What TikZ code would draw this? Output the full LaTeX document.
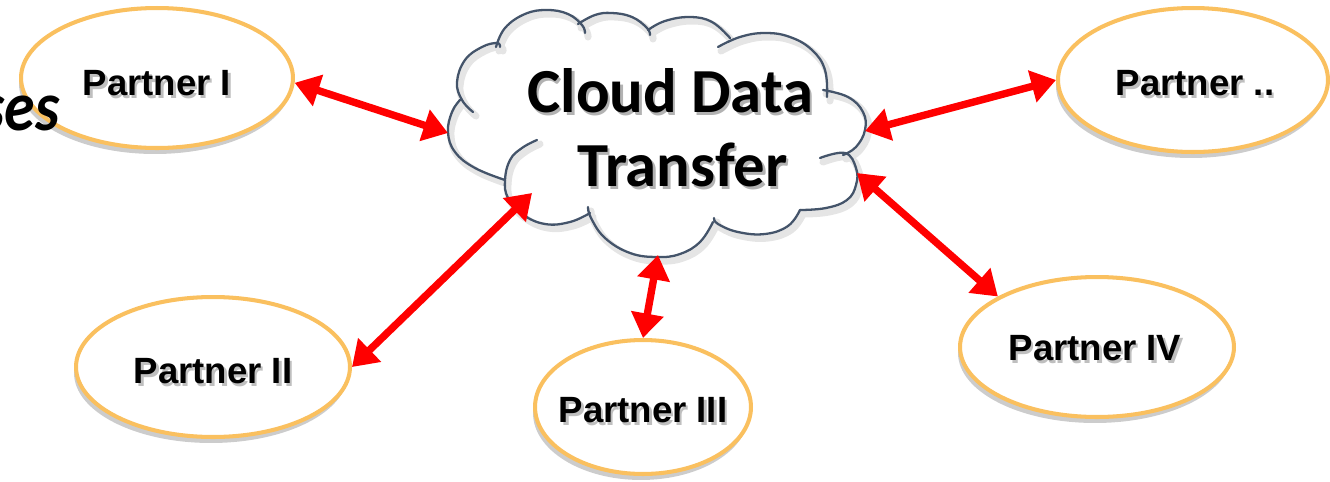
\documentclass[tikz,border=0pt]{standalone}
\usepackage{fontspec}
\setmainfont{Liberation Sans}
\newfontfamily\calib{Carlito}
\usetikzlibrary{arrows.meta,shapes.geometric}
\definecolor{partnerorange}{RGB}{250,192,95}
\definecolor{cloudslate}{RGB}{68,84,106}
\definecolor{arrowred}{RGB}{255,0,0}
\newcommand\shadowed[2][black!25]{\leavevmode\rlap{\kern1.3pt\raisebox{-1.8pt}{\textcolor{#1}{#2}}}#2}
\tikzset{
  partner/.style={ellipse, draw=partnerorange, line width=2.3pt, fill=white, inner sep=0pt},
  pshadow/.style={ellipse, fill=black!20, draw=none, inner sep=0pt},
  plabel/.style={font=\bfseries\fontsize{20.8}{24}\selectfont, anchor=base, inner sep=0pt},
  cloudtext/.style={font=\calib\bfseries\fontsize{35.7}{40}\selectfont, anchor=base, inner sep=0pt},
  cloudline/.style={draw=cloudslate, line width=1.3pt, line cap=round},
  cloudshade/.style={draw=black!10, line width=4pt, line cap=round},
  biarrow/.style={draw=arrowred, line width=4.2pt,
    {Triangle[length=14pt,width=18pt]}-{Triangle[length=14pt,width=18pt]}}
}
\begin{document}
\begin{tikzpicture}[x=0.02cm, y=-0.02cm]
\useasboundingbox (0,0) rectangle (1330,481);

% ---- partner ellipses (shadow first) ----
\node[pshadow, minimum width=5.44cm, minimum height=2.8cm] (s1) at (155,84) {};
\node[partner, minimum width=5.44cm, minimum height=2.8cm] (p1) at (157,78) {};
\node[pshadow, minimum width=5.4cm, minimum height=2.88cm] (s5) at (1191,86) {};
\node[partner, minimum width=5.4cm, minimum height=2.88cm] (p5) at (1193,80) {};
\node[pshadow, minimum width=5.48cm, minimum height=2.8cm] (s2) at (211,373) {};
\node[partner, minimum width=5.48cm, minimum height=2.8cm] (p2) at (213,367) {};
\node[pshadow, minimum width=4.32cm, minimum height=2.68cm] (s3) at (641,413) {};
\node[partner, minimum width=4.32cm, minimum height=2.68cm] (p3) at (643,407) {};
\node[pshadow, minimum width=5.48cm, minimum height=2.8cm] (s4) at (1095,353) {};
\node[partner, minimum width=5.48cm, minimum height=2.8cm] (p4) at (1097,347) {};

\node[plabel] (l1) at (157,95) {\shadowed{Partner I}};
\node[plabel] (l5) at (1195,95) {\shadowed{Partner ..}};
\node[plabel] (l2) at (213,383) {\shadowed{Partner II}};
\node[plabel] (l3) at (643,422) {\shadowed{Partner III}};
\node[plabel] (l4) at (1095,360) {\shadowed{Partner IV}};

% ---- cloud ----
\begin{scope}[shift={(3,4)}]
\foreach \sty in {cloudshade}{
\draw[\sty] plot[smooth, tension=0.7] coordinates {(505,180) (475,168) (455,152) (448,132) (452,112) (460,100)};
\draw[\sty] plot[smooth, tension=0.7] coordinates {(473,112) (462,100) (457,82) (465,60) (482,47) (497,43) (500,47)};
\draw[\sty] plot[smooth, tension=0.7] coordinates {(496,47) (505,28) (525,14) (547,10) (568,14) (582,25) (585,33)};
\draw[\sty] plot[smooth, tension=0.7] coordinates {(578,24) (595,15) (612,13) (632,17) (647,28) (650,35)};
\draw[\sty] plot[smooth, tension=0.7] coordinates {(648,30) (665,21) (690,17) (712,22) (730,38)};
\draw[\sty] plot[smooth, tension=0.7] coordinates {(718,47) (740,37) (765,33) (790,37) (812,50) (825,70) (827,97)};
\draw[\sty] plot[smooth, tension=0.7] coordinates {(823,90) (848,97) (863,112) (865,130) (856,147) (843,155)};
\draw[\sty] plot[smooth, tension=0.7] coordinates {(820,158) (845,153) (856,168) (856,185) (847,200) (826,208) (800,210)};
\draw[\sty] plot[smooth, tension=0.7] coordinates {(800,210) (788,226) (765,234) (738,232) (718,224) (714,218)};
\draw[\sty] plot[smooth, tension=0.7] coordinates {(713,222) (700,242) (680,254) (657,257) (630,253) (605,238) (591,218) (588,207)};
\draw[\sty] plot[smooth, tension=0.7] coordinates {(590,213) (570,222) (545,224) (522,214) (508,198) (505,180) (510,160) (522,148) (537,140)};
}
\end{scope}
\draw[cloudline] plot[smooth, tension=0.7] coordinates {(505,180) (475,168) (455,152) (448,132) (452,112) (460,100)};
\draw[cloudline] plot[smooth, tension=0.7] coordinates {(473,112) (462,100) (457,82) (465,60) (482,47) (497,43) (500,47)};
\draw[cloudline] plot[smooth, tension=0.7] coordinates {(496,47) (505,28) (525,14) (547,10) (568,14) (582,25) (585,33)};
\draw[cloudline] plot[smooth, tension=0.7] coordinates {(578,24) (595,15) (612,13) (632,17) (647,28) (650,35)};
\draw[cloudline] plot[smooth, tension=0.7] coordinates {(648,30) (665,21) (690,17) (712,22) (730,38)};
\draw[cloudline] plot[smooth, tension=0.7] coordinates {(718,47) (740,37) (765,33) (790,37) (812,50) (825,70) (827,97)};
\draw[cloudline] plot[smooth, tension=0.7] coordinates {(823,90) (848,97) (863,112) (865,130) (856,147) (843,155)};
\draw[cloudline] plot[smooth, tension=0.7] coordinates {(820,158) (845,153) (856,168) (856,185) (847,200) (826,208) (800,210)};
\draw[cloudline] plot[smooth, tension=0.7] coordinates {(800,210) (788,226) (765,234) (738,232) (718,224) (714,218)};
\draw[cloudline] plot[smooth, tension=0.7] coordinates {(713,222) (700,242) (680,254) (657,257) (630,253) (605,238) (591,218) (588,207)};
\draw[cloudline] plot[smooth, tension=0.7] coordinates {(590,213) (570,222) (545,224) (522,214) (508,198) (505,180) (510,160) (522,148) (537,140)};

\node[cloudtext] (ct1) at (670.5,112) {\shadowed[black!30]{Cloud Data}};
\node[cloudtext] (ct2) at (682.5,186) {\shadowed[black!30]{Transfer}};

% cloud connection points
\coordinate (c1) at (448,133);
\coordinate (c2) at (865,131);
\coordinate (c3) at (532,193);
\coordinate (c4) at (658,255);
\coordinate (c5) at (857,173);

% ---- connectors ----
\draw[biarrow] (p1.-2) -- (c1);
\draw[biarrow] (c2) -- (p5.180);
\draw[biarrow] (c3) -- (p2.0);
\draw[biarrow] (c4) -- (p3.90);
\draw[biarrow] (c5) -- (p4.153);

% ---- cut-off title fragment ----
\node[anchor=base east, inner sep=0pt, font=\calib\bfseries\itshape\fontsize{40}{44}\selectfont] (ses) at (60,130) {\scalebox{0.88}[1]{ses}};
\end{tikzpicture}
\end{document}
